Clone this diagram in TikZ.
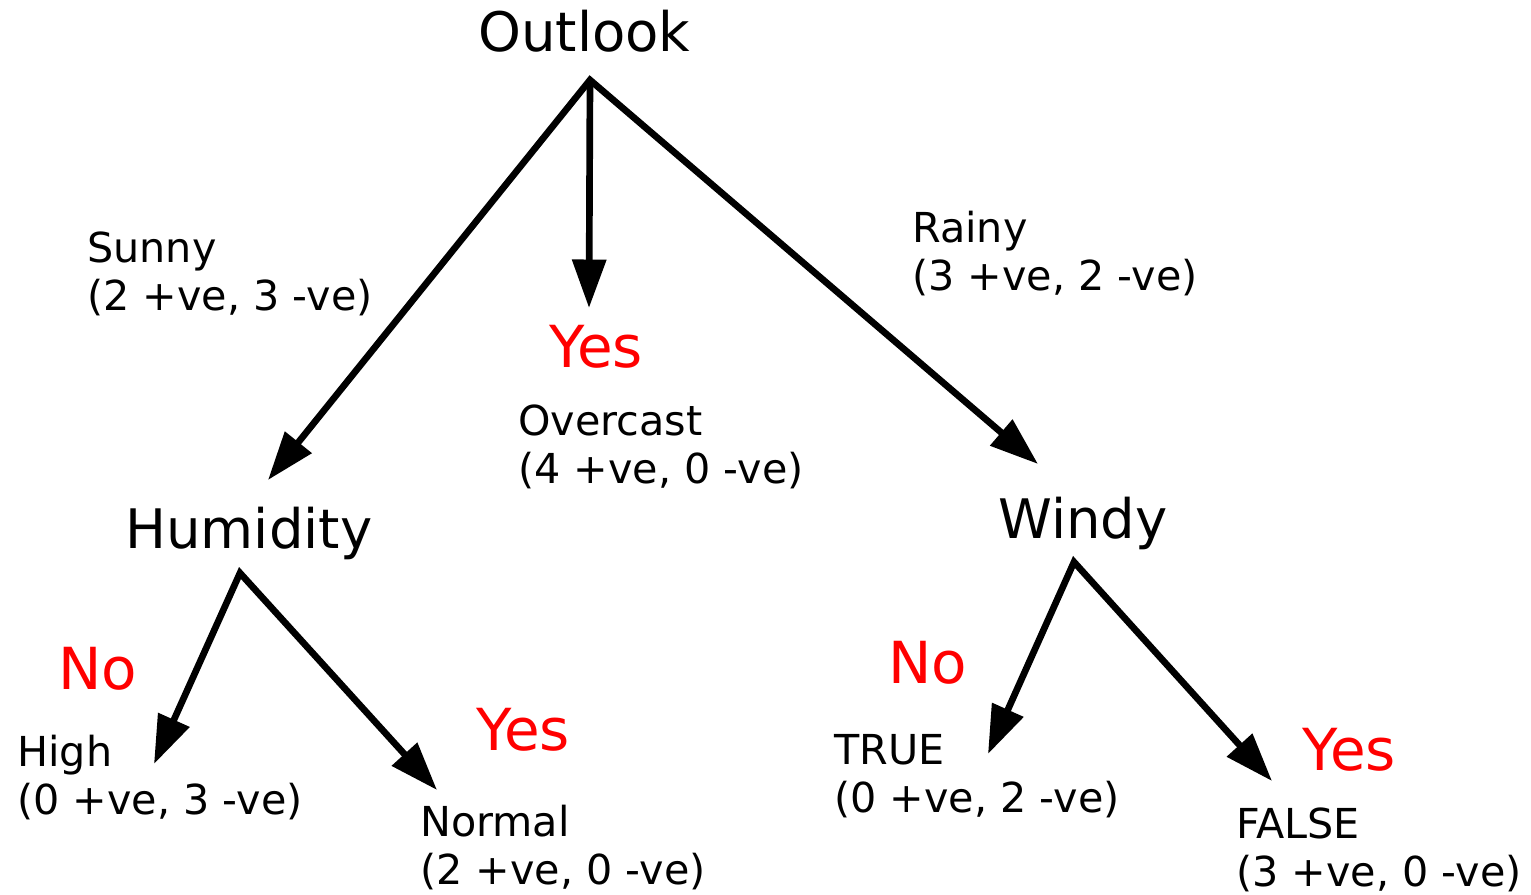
\documentclass[tikz,border=0pt]{standalone}
\usepackage{fontspec}
\setmainfont{DejaVu Sans}
\usetikzlibrary{arrows.meta}

\begin{document}
\begin{tikzpicture}[x=0.02cm,y=-0.02cm,
  >={Triangle[length=0.97cm,width=0.66cm]},
  attr/.style={inner sep=0pt,anchor=base west,font=\fontsize{31}{37}\selectfont},
  branch/.style={inner sep=0pt,anchor=base west,align=left,font=\fontsize{23.5}{27}\selectfont},
  verdict/.style={inner sep=0pt,anchor=base west,red,font=\fontsize{33}{39}\selectfont},
  edge/.style={line width=3.8pt,line join=miter}]
\useasboundingbox (0,0) rectangle (1531,894);

% attributes
\node[attr] (outlook) at (478,51) {Outlook};
\node[attr] (humidity) at (125,548) {Humidity};
\node[attr] (windy) at (998,538) {Windy};

% branch values (placed at the baseline of the last line)
\node[branch] (sunny) at (87,310) {Sunny\\(2 +ve, 3 -ve)};
\node[branch] (overcast) at (518,483) {Overcast\\(4 +ve, 0 -ve)};
\node[branch] (rainy) at (912,290) {Rainy\\(3 +ve, 2 -ve)};
\node[branch] (high) at (17,814) {High\\(0 +ve, 3 -ve)};
\node[branch] (normal) at (420,884) {Normal\\(2 +ve, 0 -ve)};
\node[branch] (true) at (834,812) {TRUE\\(0 +ve, 2 -ve)};
\node[branch] (false) at (1236,886) {FALSE\\(3 +ve, 0 -ve)};

% leaves
\node[verdict] (overcast-yes) at (549,367) {Yes};
\node[verdict] (high-no) at (58,689) {No};
\node[verdict] (normal-yes) at (476,750) {Yes};
\node[verdict] (true-no) at (888,683) {No};
\node[verdict] (false-yes) at (1302,770) {Yes};

\coordinate (outlook-out) at (590,80);
\coordinate (humidity-in) at (268,480);
\coordinate (overcast-in) at (589,308);
\coordinate (windy-in) at (1038,464);
\coordinate (humidity-out) at (240,573);
\coordinate (high-in) at (154,764);
\coordinate (normal-in) at (437,790);
\coordinate (windy-out) at (1074,562);
\coordinate (true-in) at (988,754);
\coordinate (false-in) at (1272,781);

\draw[edge,<->] (humidity-in)--(outlook-out)--(windy-in);
\draw[edge,->] (outlook-out)--(overcast-in);
\draw[edge,<->] (high-in)--(humidity-out)--(normal-in);
\draw[edge,<->] (true-in)--(windy-out)--(false-in);
\end{tikzpicture}
\end{document}
